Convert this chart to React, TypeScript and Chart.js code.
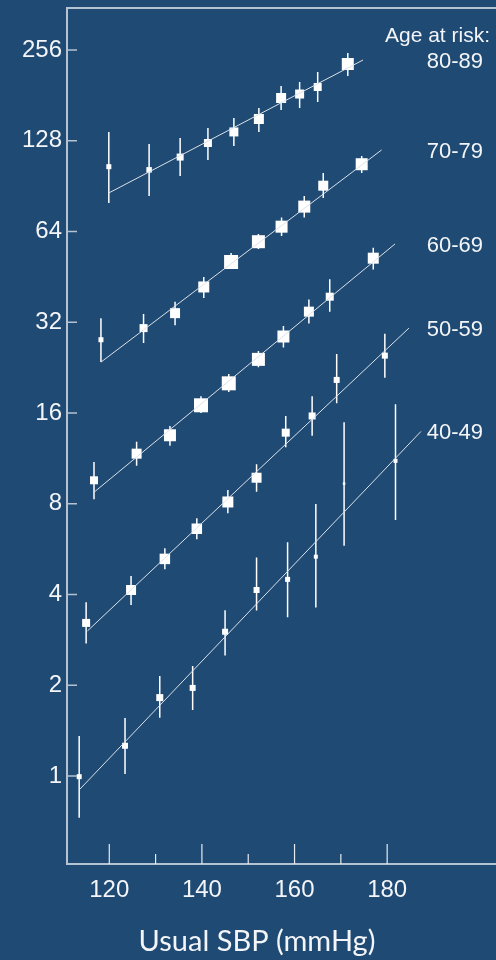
import React, { useEffect, useRef } from 'react';
import { Chart, registerables } from 'chart.js';

Chart.register(...registerables);

// ---- Data ----
const ageGroups = ['80-89', '70-79', '60-69', '50-59', '40-49'];

const sbp80 = [119.9, 128.6, 135.3, 141.3, 146.9, 152.3, 157.1, 161.1, 165.0, 171.5];
const risk80 = [105, 102.5, 113, 125.8, 136.9, 151.1, 177.4, 182.9, 193, 230];
const lo80 = [79.6, 84.0, 97.8, 110.5, 123, 136.9, 161.9, 164.4, 172.1, 210];
const hi80 = [136.9, 124.9, 130.7, 141, 152.3, 164.4, 194.4, 200.5, 216.5, 250];
const weight80 = [5, 5.5, 7, 8, 9, 10, 10, 9, 8, 12];
const fitX80 = [119.9, 174.8];
const fitY80 = [85.9, 237.2];

const sbp70 = [118.2, 127.4, 134.2, 140.4, 146.3, 152.2, 157.2, 162.1, 166.2, 174.5];
const risk70 = [28.0, 30.6, 34.3, 41.9, 50.7, 59.2, 66.4, 77.4, 90.8, 107];
const lo70 = [23.6, 27.3, 31.3, 38.5, 48.1, 56.0, 61.8, 71.2, 82.7, 100.1];
const hi70 = [33.0, 34.1, 37.4, 45.2, 54.3, 62.8, 71.2, 83.9, 100.1, 113.9];
const weight70 = [5, 8, 10, 11, 14, 13, 12, 12, 10, 12];
const fitX70 = [118.2, 178.8];
const fitY70 = [23.6, 119.3];

const sbp60 = [116.7, 125.9, 133.1, 139.8, 145.8, 152.2, 157.6, 163.1, 167.6, 177.0];
const risk60 = [9.57, 11.73, 13.5, 16.97, 20.07, 24.1, 28.7, 34.7, 38.9, 52.2];
const lo60 = [8.28, 10.7, 12.47, 16, 18.8, 22.7, 26.4, 31.7, 34.7, 47.9];
const hi60 = [11.0, 12.85, 14.5, 18.2, 21.55, 25.7, 31.1, 38.1, 44.4, 56.5];
const weight60 = [8, 10, 12, 14, 14, 13, 12, 10, 8, 11];
const fitX60 = [116.6, 181.7];
const fitY60 = [8.71, 58.2];

const sbp50 = [115.0, 124.7, 132.0, 138.9, 145.6, 151.8, 158.1, 163.8, 169.1, 179.5];
const risk50 = [3.22, 4.14, 5.25, 6.61, 8.11, 9.76, 13.77, 15.64, 20.6, 24.8];
const lo50 = [2.75, 3.69, 4.85, 6.10, 7.44, 8.77, 12.31, 13.45, 17.25, 20.96];
const hi50 = [3.77, 4.61, 5.69, 7.16, 8.89, 10.82, 15.64, 18.2, 25.1, 29.3];
const weight50 = [8, 10, 10.5, 10.5, 11, 10, 8, 7, 6, 6];
const fitX50 = [115.3, 184.7];
const fitY50 = [3.03, 30.6];

const sbp40 = [113.5, 123.4, 130.9, 138.0, 145.0, 151.8, 158.5, 164.6, 170.7, 181.8];
const risk40 = [0.995, 1.26, 1.82, 1.96, 3.01, 4.14, 4.49, 5.34, 9.33, 11.1];
const lo40 = [0.727, 1.015, 1.561, 1.655, 2.51, 3.54, 3.36, 3.62, 5.81, 7.07];
const hi40 = [1.357, 1.557, 2.147, 2.317, 3.55, 5.31, 5.96, 7.99, 14.9, 17.1];
const weight40 = [5, 6, 7, 6, 6, 6, 5, 4, 2.5, 4];
const fitX40 = [113.7, 187.3];
const fitY40 = [0.906, 13.9];

const xTicks = [120, 140, 160, 180];
const xMinorTicks = [130, 150, 170];
const yTicks = [1, 2, 4, 8, 16, 32, 64, 128, 256];
const xMin = 110.87;
const xMax = 203.5;
const yMin = 0.5107;
const yMax = 352.8;

const legendTitle = 'Age at risk:';
const xTitle = 'Usual SBP (mmHg)';

const series = [
  { label: ageGroups[0], sbp: sbp80, risk: risk80, lo: lo80, hi: hi80, w: weight80, fx: fitX80, fy: fitY80 },
  { label: ageGroups[1], sbp: sbp70, risk: risk70, lo: lo70, hi: hi70, w: weight70, fx: fitX70, fy: fitY70 },
  { label: ageGroups[2], sbp: sbp60, risk: risk60, lo: lo60, hi: hi60, w: weight60, fx: fitX60, fy: fitY60 },
  { label: ageGroups[3], sbp: sbp50, risk: risk50, lo: lo50, hi: hi50, w: weight50, fx: fitX50, fy: fitY50 },
  { label: ageGroups[4], sbp: sbp40, risk: risk40, lo: lo40, hi: hi40, w: weight40, fx: fitX40, fy: fitY40 },
];

// ---- Styles ----
const BG = '#1F4A73';
const AXIS = '#B4C2D1';
const TEXT = '#F3F5F8';
const FIT = '#DCE2E9';
const TICK_FONT = '"Liberation Sans", Arial, sans-serif';

const overlayPlugin = {
  id: 'overlay',
  beforeDatasetsDraw(chart: any) {
    const { ctx, chartArea, scales } = chart;
    const x = scales.x;
    const y = scales.y;
    ctx.save();
    ctx.beginPath();
    ctx.rect(chartArea.left, chartArea.top, chartArea.right - chartArea.left, chartArea.bottom - chartArea.top);
    ctx.clip();
    ctx.strokeStyle = '#FFFFFF';
    ctx.lineWidth = 1.5;
    ctx.beginPath();
    series.forEach((s) => {
      s.sbp.forEach((v, i) => {
        const px = x.getPixelForValue(v);
        ctx.moveTo(px, y.getPixelForValue(s.hi[i]));
        ctx.lineTo(px, y.getPixelForValue(s.lo[i]));
      });
    });
    ctx.stroke();
    ctx.restore();
  },
  afterDraw(chart: any) {
    const { ctx, chartArea, scales } = chart;
    const x = scales.x;
    const y = scales.y;
    const { left, top, right, bottom } = chartArea;
    ctx.save();
    // frame
    ctx.strokeStyle = AXIS;
    ctx.lineWidth = 2;
    ctx.beginPath();
    ctx.moveTo(right, top);
    ctx.lineTo(left, top);
    ctx.lineTo(left, bottom);
    ctx.lineTo(right, bottom);
    ctx.stroke();
    // y ticks (inward)
    ctx.lineWidth = 1.5;
    ctx.beginPath();
    yTicks.forEach((v) => {
      const py = y.getPixelForValue(v);
      ctx.moveTo(left, py);
      ctx.lineTo(left + 10, py);
    });
    ctx.stroke();
    // x ticks (inward)
    ctx.strokeStyle = '#E6EBF0';
    ctx.lineWidth = 1.2;
    ctx.beginPath();
    xTicks.forEach((v) => {
      const px = x.getPixelForValue(v);
      ctx.moveTo(px, bottom);
      ctx.lineTo(px, bottom - 20);
    });
    xMinorTicks.forEach((v) => {
      const px = x.getPixelForValue(v);
      ctx.moveTo(px, bottom);
      ctx.lineTo(px, bottom - 10);
    });
    ctx.stroke();
    // legend labels
    ctx.fillStyle = TEXT;
    ctx.textAlign = 'right';
    ctx.textBaseline = 'middle';
    ctx.font = `21px ${TICK_FONT}`;
    ctx.fillText(legendTitle, right - 6, top + 28);
    ctx.font = `22px ${TICK_FONT}`;
    series.forEach((s) => {
      ctx.fillText(s.label, right - 13, y.getPixelForValue(s.fy[1]) + 2);
    });
    // x axis title
    ctx.textAlign = 'center';
    ctx.font = '29px Lato, "Open Sans", sans-serif';
    ctx.fillText(xTitle, left + 190, bottom + 78);
    ctx.restore();
  },
};

export default function App() {
  const canvasRef = useRef<HTMLCanvasElement | null>(null);

  useEffect(() => {
    const canvas = canvasRef.current;
    if (!canvas) return;
    const datasets: any[] = [];
    series.forEach((s) => {
      datasets.push({
        label: s.label + ' fit',
        data: s.fx.map((v, i) => ({ x: v, y: s.fy[i] })),
        showLine: true,
        borderColor: FIT,
        borderWidth: 1,
        pointRadius: 0,
        fill: false,
      });
      datasets.push({
        label: s.label,
        data: s.sbp.map((v, i) => ({ x: v, y: s.risk[i] })),
        pointStyle: 'rect',
        pointRadius: s.w.map((w) => w / Math.SQRT2),
        backgroundColor: '#FFFFFF',
        borderWidth: 0,
        showLine: false,
      });
    });

    const chart = new Chart(canvas, {
      type: 'scatter',
      data: { datasets },
      options: {
        responsive: false,
        animation: false,
        devicePixelRatio: 1,
        layout: { autoPadding: false, padding: { top: 8, left: 0, right: 0, bottom: 0 } },
        plugins: { legend: { display: false }, tooltip: { enabled: false } },
        scales: {
          x: {
            type: 'linear',
            position: 'bottom',
            min: xMin,
            max: xMax,
            afterBuildTicks: (s: any) => {
              s.ticks = xTicks.map((v) => ({ value: v }));
            },
            afterFit: (s: any) => {
              s.height = 96;
              s.paddingLeft = 0;
              s.paddingRight = 0;
            },
            grid: { display: false, drawTicks: false },
            border: { display: false },
            ticks: {
              color: TEXT,
              font: { family: TICK_FONT, size: 24 },
              padding: 12,
              maxRotation: 0,
              autoSkip: false,
              callback: (v: any) => String(v),
            },
          },
          y: {
            type: 'logarithmic',
            min: yMin,
            max: yMax,
            afterBuildTicks: (s: any) => {
              s.ticks = yTicks.map((v) => ({ value: v }));
            },
            afterFit: (s: any) => {
              s.width = 67;
              s.paddingTop = 0;
              s.paddingBottom = 0;
            },
            grid: { display: false, drawTicks: false },
            border: { display: false },
            ticks: {
              color: TEXT,
              font: { family: TICK_FONT, size: 24 },
              padding: 5,
              autoSkip: false,
              callback: (v: any) => String(v),
            },
          },
        },
      },
      plugins: [overlayPlugin],
    });
    return () => chart.destroy();
  }, []);

  return (
    <div style={{ position: 'fixed', left: 0, top: 0, width: 496, height: 960, background: BG }}>
      <canvas ref={canvasRef} width={496} height={960} style={{ display: 'block', width: 496, height: 960 }} />
    </div>
  );
}
